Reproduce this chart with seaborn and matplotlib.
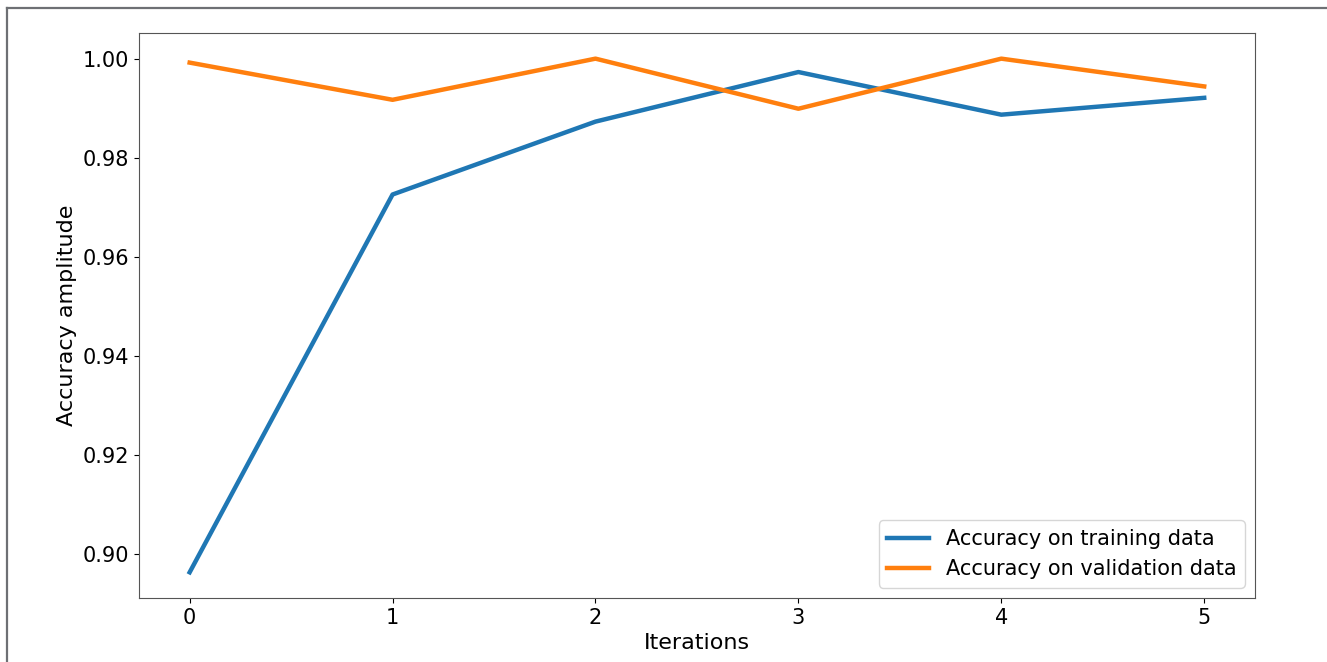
import matplotlib
matplotlib.use("Agg")
import matplotlib.pyplot as plt
from matplotlib.lines import Line2D
import seaborn as sns
import pandas as pd

iterations = [0, 1, 2, 3, 4, 5]
train_acc = [0.8964, 0.9726, 0.9873, 0.9973, 0.9887, 0.9921]
val_acc = [0.9992, 0.9917, 1.0000, 0.9899, 1.0000, 0.9944]
train_label = "Accuracy on training data"
val_label = "Accuracy on validation data"

df = pd.DataFrame({"iteration": iterations, "train": train_acc, "val": val_acc})

fig = plt.figure(figsize=(13.27, 6.62), dpi=100)
ax = fig.add_axes([0.1047, 0.0967, 0.8410, 0.8535])

sns.lineplot(data=df, x="iteration", y="train", ax=ax, color="#1f77b4",
             linewidth=3.2, label=train_label)
sns.lineplot(data=df, x="iteration", y="val", ax=ax, color="#ff7f0e",
             linewidth=3.2, label=val_label)

ax.set_xlabel("Iterations", fontsize=16)
ax.set_ylabel("Accuracy amplitude", fontsize=16)
ax.tick_params(labelsize=15)
ax.set_yticks([0.90, 0.92, 0.94, 0.96, 0.98, 1.00])
ax.set_yticklabels(["0.90", "0.92", "0.94", "0.96", "0.98", "1.00"])
for s in ax.spines.values():
    s.set_color("#555555")
ax.legend(loc="lower right", fontsize=15)

# frame lines along the top and left edges
fig.add_artist(Line2D([7 / 1327, 1.0], [1 - 8 / 662, 1 - 8 / 662],
                      transform=fig.transFigure, color="#6e7074", linewidth=1.6))
fig.add_artist(Line2D([7 / 1327, 7 / 1327], [0.0, 1 - 8 / 662],
                      transform=fig.transFigure, color="#6e7074", linewidth=1.6))

fig.savefig("out.png", dpi=100)
